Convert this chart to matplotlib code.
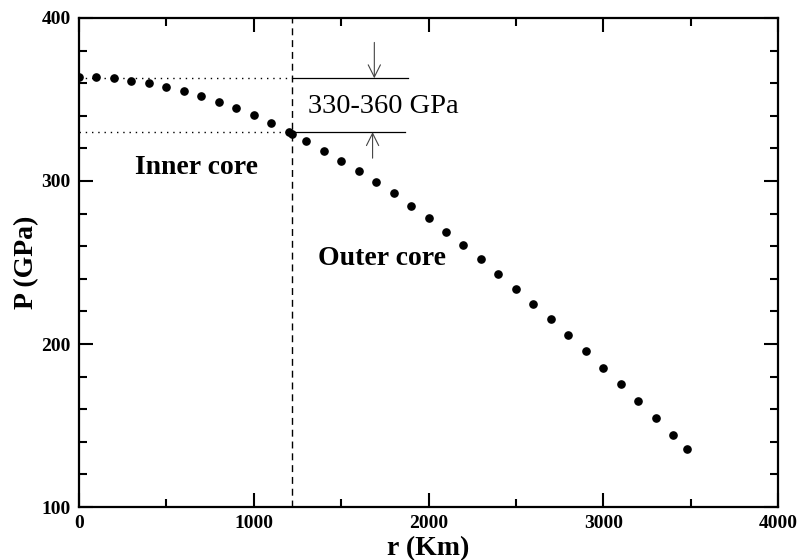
import matplotlib
matplotlib.use("Agg")
import matplotlib.pyplot as plt
from matplotlib.ticker import MultipleLocator

plt.rcParams["font.family"] = ["Liberation Serif", "DejaVu Serif"]

# radius (km) and pressure (GPa) through the core
radius = [0, 100, 200, 300, 400, 500, 600, 700, 800, 900, 1000, 1100, 1200, 1221,
          1300, 1400, 1500, 1600, 1700, 1800, 1900, 2000, 2100, 2200, 2300, 2400,
          2500, 2600, 2700, 2800, 2900, 3000, 3100, 3200, 3300, 3400, 3480]
pressure = [364.0, 363.6, 363.0, 361.5, 360.1, 357.9, 355.4, 352.3, 348.7, 344.6,
            340.3, 335.4, 330.1, 328.8, 324.4, 318.6, 312.5, 306.3, 299.6, 292.5,
            284.9, 277.1, 268.9, 260.7, 252.0, 243.1, 233.9, 224.7, 215.3, 205.7,
            195.7, 185.5, 175.5, 165.0, 154.6, 144.2, 135.8]

icb = 1220          # inner/outer core boundary
p_high = 363.0
p_low = 330.0
bracket_end = 1880
arrow_r = 1690

fig = plt.figure(figsize=(8, 5.6), dpi=100)
ax = fig.add_axes([0.09875, 0.0946, 0.87375, 0.8733])

ax.plot(radius, pressure, "o", color="black", ms=5.2, zorder=3)

# boundary and pressure range markers
ax.axvline(icb, color="black", lw=1, ls=(0, (5, 3.5)))
ax.plot([0, icb], [p_high, p_high], color="black", lw=1, ls=(0, (1, 3.5)))
ax.plot([0, icb], [p_low, p_low], color="black", lw=1, ls=(0, (1, 3.5)))
ax.plot([icb, bracket_end], [p_high, p_high], color="black", lw=0.9)
ax.plot([icb, bracket_end - 15], [p_low, p_low], color="black", lw=0.9)
ax.annotate("", xy=(arrow_r, p_high), xytext=(arrow_r, 385),
            arrowprops=dict(arrowstyle="->", color="#444444", lw=0.8,
                            mutation_scale=22, shrinkA=0, shrinkB=0))
ax.annotate("", xy=(arrow_r - 10, p_low), xytext=(arrow_r - 10, 314),
            arrowprops=dict(arrowstyle="->", color="#444444", lw=0.8,
                            mutation_scale=22, shrinkA=0, shrinkB=0))

ax.text(1310, 345.5, "330-360 GPa", fontsize=20.5, va="center", ha="left")
ax.text(320, 308.5, "Inner core", fontsize=20, fontweight="bold", va="center")
ax.text(1365, 252.5, "Outer core", fontsize=20, fontweight="bold", va="center")

ax.set_xlim(0, 4000)
ax.set_ylim(100, 400)
ax.xaxis.set_major_locator(MultipleLocator(1000))
ax.xaxis.set_minor_locator(MultipleLocator(500))
ax.yaxis.set_major_locator(MultipleLocator(100))
ax.yaxis.set_minor_locator(MultipleLocator(20))
ax.tick_params(which="both", direction="in", top=True, right=True, width=1.5)
ax.tick_params(which="major", length=10, labelsize=14, pad=6)
ax.tick_params(which="minor", length=5.5)
for lbl in ax.get_xticklabels() + ax.get_yticklabels():
    lbl.set_fontweight("bold")
for s in ax.spines.values():
    s.set_linewidth(1.6)

ax.set_xlabel("r (Km)", fontsize=20, fontweight="bold", labelpad=2.5)
ax.set_ylabel("P (GPa)", fontsize=20, fontweight="bold", labelpad=1.5)

fig.savefig("out.png", dpi=100)
